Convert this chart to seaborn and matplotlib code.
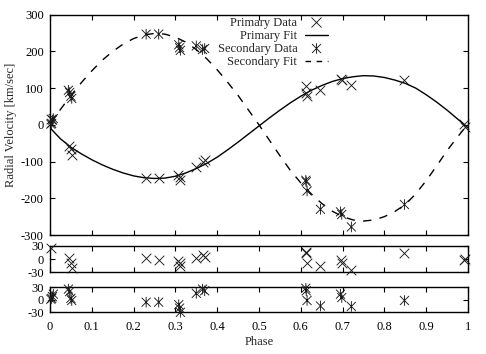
import matplotlib
matplotlib.use("Agg")
import matplotlib.pyplot as plt
import seaborn as sns
from matplotlib.lines import Line2D
from matplotlib.path import Path

sns.set_theme(style="ticks")
plt.rcParams['font.family'] = ['Liberation Serif', 'DejaVu Serif']
plt.rcParams['axes.unicode_minus'] = False
plt.rcParams['font.size'] = 9

# ---- fitted curves ----
fit_phase = [0.000, 0.025, 0.050, 0.075, 0.100, 0.125, 0.150, 0.175, 0.200, 0.225,
             0.250, 0.275, 0.300, 0.325, 0.350, 0.375, 0.400, 0.425, 0.450, 0.475,
             0.500, 0.525, 0.550, 0.575, 0.600, 0.625, 0.650, 0.675, 0.700, 0.725,
             0.750, 0.775, 0.800, 0.825, 0.850, 0.875, 0.900, 0.925, 0.950, 0.975, 1.000]
primary_fit = [-8, -38, -61, -79, -95, -109, -121, -131, -139, -144,
               -146, -145, -140, -131, -119, -105, -88, -68, -47, -25,
               -3, 19, 40, 60, 78, 94, 107, 118, 126, 131,
               134, 133, 129, 122, 113, 100, 82, 62, 40, 16, -8]
secondary_fit = [2, 42, 80, 115, 147, 176, 200, 220, 235, 245,
                 249, 247, 239, 225, 205, 180, 150, 116, 80, 40,
                 0, -42, -84, -124, -158, -188, -214, -235, -250, -259,
                 -262, -259, -250, -236, -217, -188, -152, -112, -70, -33, 2]

# ---- primary data ----
phase_p = [0.003, 0.046, 0.050, 0.052, 0.230, 0.260, 0.307, 0.310, 0.312, 0.350,
           0.365, 0.370, 0.612, 0.613, 0.615, 0.647, 0.695, 0.698, 0.721, 0.848,
           0.990, 0.994]
rv_p = [15, -58, -66, -82, -145, -146, -137, -142, -149, -114,
        -101, -95, 106, 88, 79, 96, 126, 122, 108, 122,
        1, -6]
res_p = [25, 2, -9, -21, 2, -3, -4, -9, -15, 2,
         10, 4, 17, 13, -9, -15, -3, -9, -25, 13,
         -2, 0]

# ---- secondary data ----
phase_s = [0.002, 0.004, 0.006, 0.008, 0.044, 0.047, 0.050, 0.052, 0.230, 0.260,
           0.308, 0.310, 0.312, 0.350, 0.365, 0.370, 0.612, 0.613, 0.615, 0.647,
           0.695, 0.698, 0.721, 0.848]
rv_s = [2, 4, 13, 17, 94, 88, 78, 72, 247, 247,
        218, 210, 203, 215, 205, 208, -151, -155, -180, -230,
        -237, -244, -278, -217]
res_s = [1, 3, 7, 13, 25, 19, 3, -2, -6, -6,
         -12, -20, -30, 15, 25, 21, 27, 21, -2, -15,
         13, 5, -16, -2]

x_ticks = [0, 0.1, 0.2, 0.3, 0.4, 0.5, 0.6, 0.7, 0.8, 0.9, 1.0]
x_tick_labels = ["0", "0.1", "0.2", "0.3", "0.4", "0.5", "0.6", "0.7", "0.8", "0.9", "1"]
main_y_ticks = [-300, -200, -100, 0, 100, 200, 300]
res_y_ticks = [-30, 0, 30]

legend_labels = ["Primary Data", "Primary Fit", "Secondary Data", "Secondary Fit"]
x_label = "Phase"
y_label = "Radial Velocity [km/sec]"

W, H = 486, 354
fig = plt.figure(figsize=(W / 100, H / 100), dpi=100)
L, R = 50, 468
ax_main = fig.add_axes([L / W, 1 - 235 / H, (R - L) / W, (235 - 14.7) / H])
ax_r1 = fig.add_axes([L / W, 1 - 272.3 / H, (R - L) / W, (272.3 - 246) / H])
ax_r2 = fig.add_axes([L / W, 1 - 312.3 / H, (R - L) / W, (312.3 - 287) / H])

# asterisk marker: vertical bar plus a diagonal cross
d = 0.85
star = Path([(0, -1), (0, 1), (-d, -d), (d, d), (-d, d), (d, -d)],
            [Path.MOVETO, Path.LINETO, Path.MOVETO, Path.LINETO, Path.MOVETO, Path.LINETO])
mcol = "#1a1a1a"
msz = 48
ssz = 58
mlw = 0.65

sns.lineplot(x=fit_phase, y=primary_fit, color="black", lw=1.0, sort=False,
             estimator=None, ax=ax_main)
sns.lineplot(x=fit_phase, y=secondary_fit, color="black", lw=1.0, sort=False,
             estimator=None, linestyle=(0, (6, 6)), ax=ax_main)
sns.scatterplot(x=phase_p, y=rv_p, marker="x", color=mcol, s=msz, linewidth=mlw,
                ax=ax_main, legend=False, clip_on=False, zorder=3)
sns.scatterplot(x=phase_s, y=rv_s, marker=star, facecolor="none", edgecolor=mcol,
                s=ssz, linewidth=mlw, ax=ax_main, legend=False, clip_on=False, zorder=3)

sns.scatterplot(x=phase_p, y=res_p, marker="x", color=mcol, s=msz, linewidth=mlw,
                ax=ax_r1, legend=False, clip_on=False, zorder=3)
sns.scatterplot(x=phase_s, y=res_s, marker=star, facecolor="none", edgecolor=mcol,
                s=ssz, linewidth=mlw, ax=ax_r2, legend=False, clip_on=False, zorder=3)

for ax in (ax_main, ax_r1, ax_r2):
    ax.set_xlim(0, 1)
    ax.set_xticks(x_ticks)
    ax.set_xticklabels(x_tick_labels)
    ax.tick_params(direction="in", length=3.6, width=0.8, top=True, right=True,
                   labelsize=9, pad=4.5, colors="black")
    for sp in ax.spines.values():
        sp.set_visible(True)
        sp.set_linewidth(1.0)
        sp.set_color("black")
    ax.set_xlabel("")
    ax.set_ylabel("")

ax_main.set_ylim(-300, 300)
ax_main.set_yticks(main_y_ticks)
ax_main.set_yticklabels([str(v) for v in main_y_ticks])
ax_main.tick_params(labelbottom=False)
for ax in (ax_r1, ax_r2):
    ax.set_ylim(-30, 30)
    ax.set_yticks(res_y_ticks)
    ax.set_yticklabels([str(v) for v in res_y_ticks])
ax_r1.tick_params(labelbottom=False)
ax_r2.tick_params(axis="x", pad=6)

handles = [
    Line2D([], [], marker="x", ls="none", color=mcol, ms=7, mew=mlw),
    Line2D([], [], color="black", lw=1.0),
    Line2D([], [], marker=star, ls="none", color=mcol, ms=7.6, mew=mlw, fillstyle="none"),
    Line2D([], [], color="black", lw=1.0, linestyle=(0, (4, 4))),
]
ax_main.legend(handles, legend_labels, loc="upper right", bbox_to_anchor=(0.665, 0.99),
               frameon=False, markerfirst=False, handlelength=1.85, handletextpad=0.6,
               labelspacing=0.08, borderpad=0, borderaxespad=0, fontsize=9)

fig.text(11 / W, 1 - 125 / H, y_label, rotation=90, ha="center", va="center", fontsize=9)
fig.text(259 / W, 1 - 342 / H, x_label, ha="center", va="center", fontsize=9)

fig.savefig("out.png", dpi=100)
